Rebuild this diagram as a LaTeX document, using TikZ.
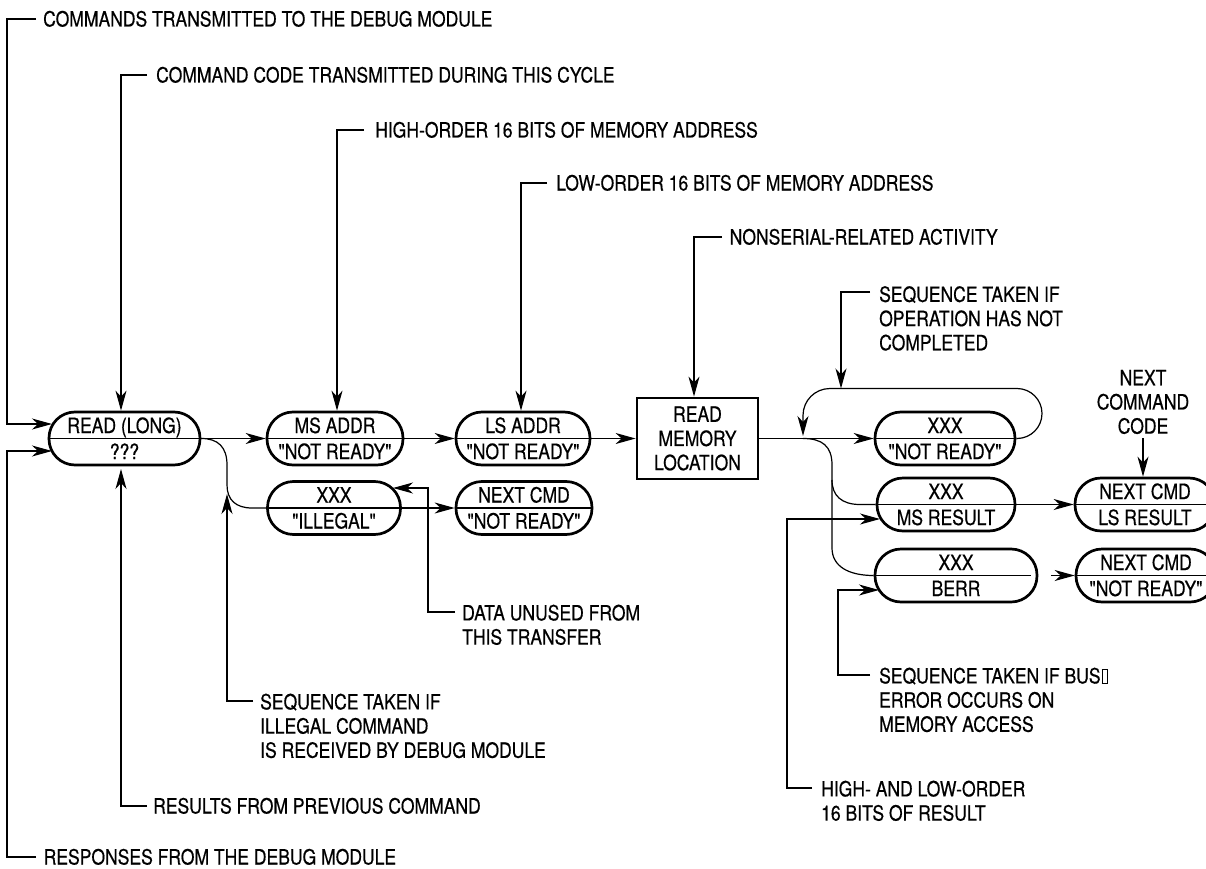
\documentclass[tikz,border=0pt]{standalone}
\usepackage{fontspec}
\setmainfont{TeX Gyre Heros}[FakeStretch=0.835, FakeBold=0.5, Ligatures=TeXOff]
\usetikzlibrary{arrows.meta}
\newcommand\missingglyph{{\setlength\fboxsep{0pt}\setlength\fboxrule{0.9pt}\kern1pt\fbox{\rule{0pt}{13pt}\kern4.5pt}}}
\tikzset{
  every node/.style={inner sep=0pt, font=\fontsize{21}{24.2}\selectfont},
  conn/.style={line width=1.2pt},
  arr/.style={conn, -{Stealth[length=20pt,width=11pt,inset=6pt]}},
  stad/.style={draw, line width=2.7pt, rounded corners=26pt, minimum height=53pt},
  procbox/.style={draw, line width=2.8pt, minimum width=121pt, minimum height=81pt, align=center},
  note/.style={anchor=base west},
  mnote/.style={anchor=north west, align=left},
  sl/.style={anchor=base},
}
\newcommand\stadium[7]{% name, x, y, width, top, bottom, divider shortening
  \node[stad, minimum width=#4pt] (#1) at (#2,#3) {};
  \node[sl] (#1-t) at (#2,#3-5.5) {#5};
  \node[sl] (#1-b) at (#2,#3+20.5) {#6};
  \draw[conn] (#1.west) -- ([xshift=-#7pt]#1.east);
}
\begin{document}
\begin{tikzpicture}[x=1pt,y=-1pt]
\fill[white] (0,0) rectangle (1206,869);
\useasboundingbox (0,0) rectangle (1206,869);

% ---- stadium states
\stadium{read}{124.5}{438.5}{151}{READ (LONG)}{???}{0}
\stadium{msaddr}{335}{438.5}{136}{MS ADDR}{"NOT READY"}{0}
\stadium{lsaddr}{523}{438.5}{134}{LS ADDR}{"NOT READY"}{0}
\stadium{illegal}{334}{508}{133}{XXX}{"ILLEGAL"}{0}
\stadium{nextA}{524}{508}{136}{NEXT CMD}{"NOT READY"}{0}
\stadium{xnr}{945}{438.5}{140}{XXX}{"NOT READY"}{0}
\stadium{msres}{946}{504.5}{138}{XXX}{MS RESULT}{0}
\stadium{nextB}{1145}{504.5}{140}{NEXT CMD}{LS RESULT}{0}
\stadium{berr}{956}{575.5}{162}{XXX}{BERR}{7}
\stadium{nextC}{1146}{575.5}{140}{NEXT CMD}{"NOT READY"}{0}

\node[procbox] (rml) at (697.5,438.5) {READ\\MEMORY\\LOCATION};
\node[align=center] (nccode) at (1143,402) {NEXT\\COMMAND\\CODE};

% ---- callout texts
\node[note] (t1) at (43,26.5) {COMMANDS TRANSMITTED TO THE DEBUG MODULE};
\node[note] (t2) at (156,82.5) {COMMAND CODE TRANSMITTED DURING THIS CYCLE};
\node[note] (t3) at (375,137.5) {HIGH-ORDER 16 BITS OF MEMORY ADDRESS};
\node[note] (t4) at (556,190.5) {LOW-ORDER 16 BITS OF MEMORY ADDRESS};
\node[note] (t5) at (729.5,244.5) {NONSERIAL-RELATED ACTIVITY};
\node[mnote] (t6) at (879,286) {SEQUENCE TAKEN IF\\OPERATION HAS NOT\\COMPLETED};
\node[mnote] (t7) at (462,604.5) {DATA UNUSED FROM\\THIS TRANSFER};
\node[mnote] (t8) at (260,693.5) {SEQUENCE TAKEN IF\\ILLEGAL COMMAND\\IS RECEIVED BY DEBUG MODULE};
\node[note] (t9) at (153,813.5) {RESULTS FROM PREVIOUS COMMAND};
\node[note] (t10) at (43.5,864.5) {RESPONSES FROM THE DEBUG MODULE};
\node[mnote] (t11) at (879,667.5) {SEQUENCE TAKEN IF BUS\missingglyph\\ERROR OCCURS ON\\MEMORY ACCESS};
\node[mnote] (t12) at (821,780.5) {HIGH- AND LOW-ORDER\\16 BITS OF RESULT};

% ---- free ends of callout connectors
\coordinate (inA) at (52,424);
\coordinate (inB) at (52,451);
\coordinate (inC) at (121,469);
\coordinate (looptop) at (841,388.5);
\coordinate (illtip) at (227,494);
\coordinate (unused) at (393,488);
\coordinate (busin) at (879,590);
\coordinate (resin) at (880,519);
\coordinate (jn) at (803,438.5);

% ---- callout connectors
\draw[arr] (36,19) -- (7,19) |- (inA);
\draw[arr] (36,857) -- (7,857) |- (inB);
\draw[arr] (147,75) -- (121,75) -- (121,0 |- read.north);
\draw[arr] (147,806) -- (121,806) -- (inC);
\draw[arr] (364,130) -- (337,130) -- (337,0 |- msaddr.north);
\draw[arr] (547,183) -- (521,183) -- (521,0 |- lsaddr.north);
\draw[arr] (722,237) -- (694,237) -- (694,0 |- rml.north);
\draw[arr] (870,292) -- (841,292) -- (looptop);
\draw[arr] (253,701) -- (227,701) -- (illtip);
\draw[arr] (455,612) -- (428,612) |- (unused);
\draw[arr] (870,675) -- (838,675) |- (busin);
\draw[arr] (812,788) -- (787,788) |- (resin);
\draw[arr] ([yshift=-4pt]nccode.south) -- (nccode.south |- nextB.north);

% ---- main flow
\draw[arr] (read.east) -- (msaddr.west);
\draw[arr] (msaddr.east) -- (lsaddr.west);
\draw[arr] (lsaddr.east) -- (rml.west);
\draw[arr] (rml.east) -- (xnr.west);
\draw[arr] (illegal.east) -- (nextA.west);
\draw[arr] (msres.east) -- (nextB.west);
\draw[arr] ([xshift=13pt]berr.east) -- (nextC.west);

% ---- branches
\draw[conn] (read.east) .. controls (218,438.5) and (227,447) .. (227,465) -- (227,485)
  .. controls (227,500) and (236,508) .. (252,508) -- (illegal.west);
\draw[conn] (jn) .. controls (822,438.5) and (832,446) .. (832,465) -- (832,548)
  .. controls (832,566) and (848,575.5) .. (berr.west);
\draw[conn] (832,480) .. controls (832,496) and (842,504.5) .. (860,504.5) -- (msres.west);
\draw[arr] (xnr.east) -- (1017,438.5) .. controls (1030.8,438.5) and (1042,427.3) .. (1042,413.5)
  .. controls (1042,399.7) and (1030.8,388.5) .. (1017,388.5) -- (830,388.5)
  .. controls (815,388.5) and (803,400.5) .. (803,415.5) -- (803,436);
\end{tikzpicture}
\end{document}
